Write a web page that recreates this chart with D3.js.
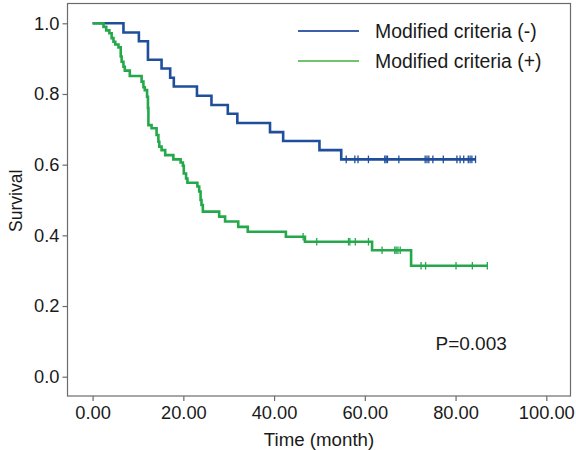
<!DOCTYPE html>
<html><head><meta charset="utf-8">
<script src="https://cdn.jsdelivr.net/npm/d3@7"></script>
<style>body{margin:0;background:#fff}svg text{font-family:"Liberation Sans",Arial,Helvetica,sans-serif;fill:#1a1a1a}</style>
</head><body>
<svg id="c" width="576" height="450"></svg>
<script>
// ---- data ----
const xTicks = [0, 20, 40, 60, 80, 100];
const yTicks = [0, 0.2, 0.4, 0.6, 0.8, 1.0];
const seriesNames = ["Modified criteria (-)", "Modified criteria (+)"];

const negTimes = [0, 6.8, 10.2, 12.2, 15.2, 17.1, 17.9, 23.0, 26.2, 29.8, 31.9, 39.1, 42.0, 50.0, 54.8];
const negSurv  = [1.0, 0.974, 0.949, 0.897, 0.872, 0.846, 0.821, 0.795, 0.769, 0.744, 0.718, 0.692, 0.667, 0.641, 0.615];
const negEnd = 84.4;
const negCensor = [55.9, 57.8, 58.5, 60.8, 64.4, 64.7, 65.0, 67.5, 73.3, 73.7, 74.1, 75.0, 77.3, 80.3, 81.0, 81.8, 82.8, 83.2, 83.6, 84.4];

const posTimes = [0, 2.4, 3.0, 3.7, 4.2, 4.6, 5.0, 5.7, 6.2, 6.4, 6.8, 7.1, 8.2, 10.8, 11.2, 11.5, 12.0, 12.2, 12.3, 13.0, 14.1, 14.5, 14.7, 15.2, 16.0, 17.8, 19.4, 19.9, 20.1, 20.6, 20.9, 23.1, 23.5, 23.8, 24.0, 24.3, 27.9, 29.2, 32.1, 34.2, 42.6, 46.8, 61.6, 70.2];
const posSurv  = [1.0, 0.99, 0.98, 0.972, 0.958, 0.948, 0.94, 0.932, 0.906, 0.891, 0.877, 0.866, 0.851, 0.835, 0.819, 0.811, 0.792, 0.76, 0.712, 0.703, 0.684, 0.665, 0.651, 0.641, 0.627, 0.615, 0.606, 0.597, 0.575, 0.561, 0.549, 0.538, 0.524, 0.50, 0.486, 0.467, 0.453, 0.439, 0.424, 0.41, 0.396, 0.382, 0.358, 0.314];
const posEnd = 87.0;
const posCensor = [46.4, 49.4, 56.4, 56.7, 57.9, 60.8, 63.8, 66.6, 66.9, 67.3, 67.8, 72.4, 73.4, 80.1, 83.7, 87.0];

const pLabel = "P=0.003";

// ---- drawing ----
const svg = d3.select("#c");
const x = d3.scaleLinear().domain([0, 100]).range([92.6, 546.3]);
const y = d3.scaleLinear().domain([0, 1]).range([376.7, 23.3]);
const frame = {l: 67.5, t: 3.5, r: 570.5, b: 396};
const axisCol = "#6b6b6b";

svg.append("rect").attr("x", frame.l).attr("y", frame.t)
  .attr("width", frame.r - frame.l).attr("height", frame.b - frame.t)
  .attr("fill", "none").attr("stroke", axisCol).attr("stroke-width", 1.2);

const xa = svg.append("g").attr("transform", `translate(0,${frame.b})`)
  .call(d3.axisBottom(x).tickValues(xTicks).tickSize(5).tickPadding(5).tickFormat(d3.format(".2f")));
const ya = svg.append("g").attr("transform", `translate(${frame.l},0)`)
  .call(d3.axisLeft(y).tickValues(yTicks).tickSize(5).tickPadding(3).tickFormat(d3.format(".1f")));
[xa, ya].forEach(g => {
  g.select(".domain").remove();
  g.selectAll("line").attr("stroke", axisCol).attr("stroke-width", 1.2);
  g.selectAll("text").attr("font-size", 18.3).attr("fill", "#1a1a1a")
    .style("font-family", '"Liberation Sans",Arial,sans-serif');
});

svg.append("text").attr("x", (frame.l + frame.r) / 2).attr("y", 446)
  .attr("text-anchor", "middle").attr("font-size", 18.7).text("Time (month)");
svg.append("text").attr("transform", `translate(22,${(frame.t + frame.b) / 2 + 1}) rotate(-90)`)
  .attr("text-anchor", "middle").attr("font-size", 17.5).text("Survival");

const colors = ["#1f4e9b", "#24a84a"];
const legendColors = ["#3d5fa8", "#72c36e"];
const series = [
  {times: negTimes, surv: negSurv, end: negEnd, censor: negCensor},
  {times: posTimes, surv: posSurv, end: posEnd, censor: posCensor}
];
const line = d3.line().x(d => x(d[0])).y(d => y(d[1])).curve(d3.curveStepAfter);

series.forEach((s, i) => {
  const pts = s.times.map((t, j) => [t, s.surv[j]]);
  pts.push([s.end, s.surv[s.surv.length - 1]]);
  svg.append("path").attr("d", line(pts)).attr("fill", "none")
    .attr("stroke", colors[i]).attr("stroke-width", 2.6);
  const survAt = t => { let v = 1; s.times.forEach((tt, j) => { if (tt <= t) v = s.surv[j]; }); return v; };
  svg.append("g").selectAll("line").data(s.censor).join("line")
    .attr("x1", d => x(d)).attr("x2", d => x(d))
    .attr("y1", d => y(survAt(d)) - 3.8).attr("y2", d => y(survAt(d)) + 3.8)
    .attr("stroke", colors[i]).attr("stroke-width", 1.3);
});

// legend
seriesNames.forEach((n, i) => {
  const ly = 31 + i * 30;
  svg.append("line").attr("x1", 298).attr("x2", 359).attr("y1", ly).attr("y2", ly)
    .attr("stroke", legendColors[i]).attr("stroke-width", 1.8);
  svg.append("text").attr("x", 375).attr("y", ly + 6.8).attr("font-size", 19.4).text(n);
});

svg.append("text").attr("x", 435.5).attr("y", 349.5).attr("font-size", 19).text(pLabel);
</script>
</body></html>
